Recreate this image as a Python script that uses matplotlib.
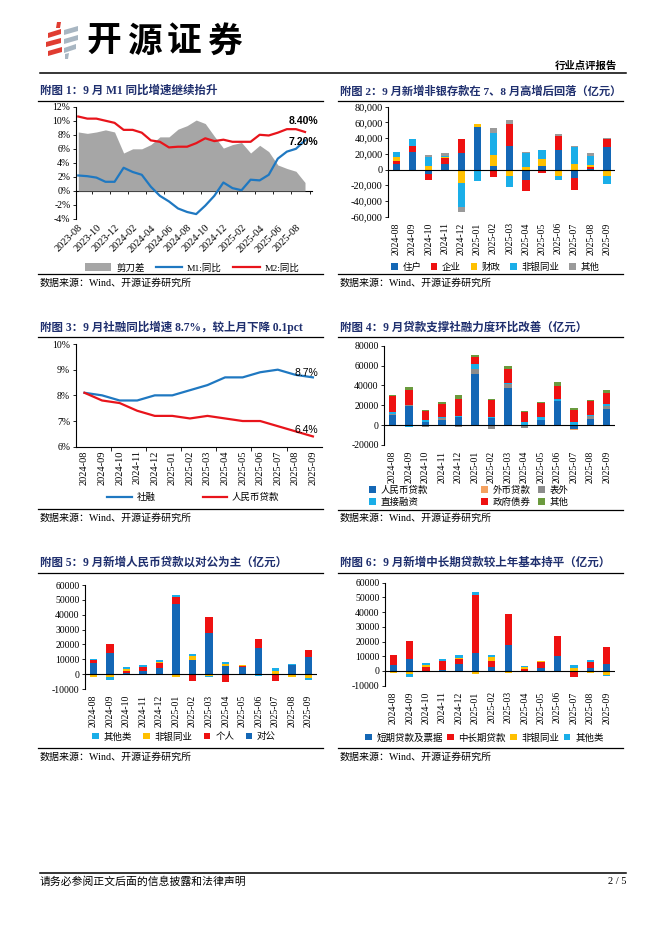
import matplotlib
matplotlib.use('Agg')
import matplotlib.pyplot as plt
from matplotlib.lines import Line2D
from matplotlib.patches import Patch, Polygon
from matplotlib.ticker import FuncFormatter
import numpy as np

plt.rcParams['font.family'] = ['Liberation Serif', 'Noto Sans CJK SC', 'DejaVu Sans']
plt.rcParams['axes.unicode_minus'] = False

W, H = 662, 936
NAVY = '#1F2F6E'
C_BLUE = '#1467B5'
C_RED = '#EE1111'
C_YEL = '#FFC000'
C_LBLUE = '#1AAEE8'
C_GRAY = '#9A9A9A'
C_DGRAY = '#8C8C8C'
C_ORANGE = '#F4A261'
C_GREEN = '#6B9A3E'
L_BLUE = '#1F78C1'
L_RED = '#E8141B'

# ---------------- data ----------------
months_26 = ['2023-08', '2023-09', '2023-10', '2023-11', '2023-12', '2024-01', '2024-02',
             '2024-03', '2024-04', '2024-05', '2024-06', '2024-07', '2024-08', '2024-09',
             '2024-10', '2024-11', '2024-12', '2025-01', '2025-02', '2025-03', '2025-04',
             '2025-05', '2025-06', '2025-07', '2025-08', '2025-09']
m1_yoy = [2.2, 2.1, 1.9, 1.3, 1.3, 3.3, 2.7, 2.3, 0.6, -0.7, -1.5, -2.5, -3.0, -3.3,
          -2.1, -0.7, 1.2, 0.4, 0.1, 1.6, 1.5, 2.3, 4.6, 5.6, 6.0, 7.2]
m2_yoy = [10.6, 10.3, 10.3, 10.0, 9.7, 8.7, 8.7, 8.3, 7.2, 7.0, 6.2, 6.3, 6.3, 6.8,
          7.5, 7.1, 7.3, 7.0, 7.0, 7.0, 8.0, 7.9, 8.3, 8.8, 8.8, 8.4]
scissors = [8.4, 8.2, 8.4, 8.7, 8.4, 5.4, 6.0, 6.0, 6.6, 7.7, 7.7, 8.8, 9.3, 10.1,
            9.6, 7.8, 6.1, 6.6, 6.9, 5.4, 6.5, 5.6, 3.7, 3.2, 2.8, 1.2]

months_14 = ['2024-08', '2024-09', '2024-10', '2024-11', '2024-12', '2025-01', '2025-02',
             '2025-03', '2025-04', '2025-05', '2025-06', '2025-07', '2025-08', '2025-09']

# 附图2 新增存款（亿元）
dep_household = [7000, 22000, -6000, 7000, 21000, 54500, 5000, 30500, -13500, 4500, 24500, -11000, 1000, 28500]
dep_corp = [4000, 8000, -7500, 7500, 18500, -2000, -9000, 28000, -13500, -4500, 18000, -15000, 2500, 10000]
dep_fiscal = [5000, -1500, 5000, 1500, -17500, 4000, 13000, -8500, 3000, 8500, -8500, 7500, 2500, -8500]
dep_nonbank = [6000, 9500, 11000, 1500, -30500, -13000, 29000, -13500, 17500, 12000, -5000, 21000, 11800, -9500]
dep_other = [0, 0, 2500, 4000, -6500, 0, 5500, 5000, 2000, 0, 3000, 2000, 3000, 2000]

# 附图3 同比增速（%）
tsf_yoy = [8.1, 8.0, 7.8, 7.8, 8.0, 8.0, 8.2, 8.4, 8.7, 8.7, 8.9, 9.0, 8.8, 8.7]
rmb_loan_yoy = [8.1, 7.8, 7.7, 7.4, 7.2, 7.2, 7.1, 7.2, 7.1, 7.0, 7.0, 6.8, 6.6, 6.4]

# 附图4 社融分项（亿元）
tsf_rmb_loan = [10500, 19000, 3000, 5500, 8500, 51500, 7000, 37500, -1000, 5500, 24500, -4300, 6000, 16000]
tsf_fx_loan = [-300, -500, -300, -300, -500, 500, -300, -200, -300, -200, -300, -500, -200, -200]
tsf_offbs = [1000, 1500, -1500, 1500, -1000, 4500, -3500, 3500, -1500, -500, -500, -300, 3500, 3500]
tsf_direct = [1500, -1500, 2000, 1500, 1000, 5000, 1500, 1000, 3500, 2500, 1500, 3300, 1000, 1500]
tsf_govbond = [16000, 15000, 9000, 13000, 17000, 7000, 17000, 14700, 9700, 14000, 13500, 12400, 13700, 11500]
tsf_other = [1500, 3000, 1300, 1700, 3500, 2000, 800, 2500, 1500, 1500, 3500, 1500, 1500, 2500]

# 附图5/6 新增人民币贷款（亿元）
loan_corp = [7500, 14300, 500, 2300, 4000, 47300, 9800, 28000, 5800, 4700, 17300, 0, 6000, 11400]
loan_personal = [2200, 5800, 1600, 2300, 3400, 4300, -4300, 10300, -5500, 600, 6300, -4900, 0, 4700]
loan_nonbank = [-1600, -2200, 1300, -700, 600, -2000, 2700, -1500, 1100, 800, -400, 2000, -1600, -2500]
loan_other = [500, -1800, 1300, 1500, 1600, 2000, 1000, -200, 1000, 100, -600, 2100, 1100, -1200]
loan_short = [4000, 8200, 300, 800, 5000, 12000, 2500, 17500, 200, 2200, 10200, 0, 2000, 4800]
loan_mlt = [6600, 12000, 2300, 5700, 3400, 39500, 4500, 21300, 1400, 4000, 13600, -3900, 4300, 11600]

# ---------------- helpers ----------------
fig = plt.figure(figsize=(W / 100, H / 100), dpi=100)


def fx(x):
    return x / W


def fy(y):
    return 1 - y / H


def px_axes(l, t, r, b):
    return fig.add_axes([fx(l), fy(b), (r - l) / W, (b - t) / H])


def hline(x0, x1, y, lw=0.9):
    fig.add_artist(Line2D([fx(x0), fx(x1)], [fy(y), fy(y)], color='black', lw=lw))


def ftext(x, y, s, **kw):
    kw.setdefault('va', 'center')
    fig.text(fx(x), fy(y), s, **kw)


def title(x, y, s, size=8.3):
    ftext(x, y, s, fontsize=size, fontweight='bold', color=NAVY,
          family=['Liberation Serif', 'Noto Sans CJK SC'])


def source(x, y):
    ftext(x, y, '数据来源：Wind、开源证券研究所', fontsize=7.2,
          family=['Liberation Serif', 'Noto Sans CJK SC'])


def fig_legend(handles, labels, x, y, ncol, colsp, hl=0.7, hh=0.7, pad=0.5):
    fig.legend(handles, labels, loc='center left', bbox_to_anchor=(fx(x), fy(y)),
               ncol=ncol, frameon=False, fontsize=6.8, handlelength=hl, handleheight=hh,
               handletextpad=pad, columnspacing=colsp, borderaxespad=0, borderpad=0,
               labelspacing=0.3)


def style_y(ax, ylim, yticks, fmt, size=7):
    ax.set_ylim(*ylim)
    ax.set_yticks(yticks)
    ax.yaxis.set_major_formatter(FuncFormatter(fmt))
    for s in ['top', 'right']:
        ax.spines[s].set_visible(False)
    ax.spines['left'].set_linewidth(0.8)
    ax.tick_params(axis='y', labelsize=size, length=2.5, width=0.6, pad=1.5)
    ax.patch.set_alpha(0)


def stacked_bars(ax, series, colors, width=0.45):
    x = np.arange(len(series[0]))
    pos = np.zeros(len(x))
    neg = np.zeros(len(x))
    for vals, c in zip(series, colors):
        v = np.array(vals, dtype=float)
        p = np.where(v > 0, v, 0)
        n = np.where(v < 0, v, 0)
        ax.bar(x, p, width, bottom=pos, color=c, linewidth=0)
        ax.bar(x, n, width, bottom=neg, color=c, linewidth=0)
        pos += p
        neg += n
    ax.set_xlim(-0.5, len(x) - 0.5)
    ax.axhline(0, color='black', lw=0.8)
    ax.spines['bottom'].set_visible(False)
    ax.set_xticks(x)
    ax.set_xticklabels(months_14, rotation=90, fontsize=7)
    ax.tick_params(axis='x', length=0, pad=4)


def sq(c):
    return Patch(facecolor=c, edgecolor='none')


# ---------------- header ----------------
for pts, c in [
    ([(57, 22), (61, 22), (60, 28), (56, 28)], '#E03C31'),
    ([(48, 33), (61, 29), (61, 34), (48, 38)], '#E03C31'),
    ([(46, 42), (61, 38), (61, 43), (46, 47)], '#E03C31'),
    ([(48, 51), (62, 47), (62, 52), (48, 56)], '#E03C31'),
    ([(64, 30), (78, 26), (78, 31), (64, 35)], '#A8B6C2'),
    ([(64, 39), (78, 35), (78, 40), (64, 44)], '#A8B6C2'),
    ([(64, 48), (76, 44), (76, 49), (64, 53)], '#A8B6C2'),
    ([(65, 54), (69, 53), (68, 59), (65, 59)], '#A8B6C2'),
]:
    fig.add_artist(Polygon([(fx(a), fy(b)) for a, b in pts], closed=True,
                           facecolor=c, edgecolor='none', transform=fig.transFigure))
for i, ch in enumerate('开源证券'):
    ftext(104 + 40 * i, 41, ch, fontsize=25, fontweight='bold', ha='center',
          family=['Noto Sans CJK SC'])
ftext(617, 66, '行业点评报告', fontsize=7.5, fontweight='bold', ha='right', family=['Noto Sans CJK SC'])
hline(40, 626, 73, lw=1.1)

# ---------------- chart 1 ----------------
title(40, 91, '附图 1：9 月 M1 同比增速继续抬升')
hline(38, 323, 101)
ax1 = px_axes(76, 106.7, 312, 219)
x26 = np.arange(len(months_26))
ax1.fill_between(x26, 0, scissors, color='#A6A6A6', linewidth=0, label='剪刀差')
ax1.plot(x26, m1_yoy, color=L_BLUE, lw=1.6, label='M1:同比')
ax1.plot(x26, m2_yoy, color=L_RED, lw=1.6, label='M2:同比')
ax1.set_xlim(-0.25, 25.77)
style_y(ax1, (-4, 12), np.arange(-4, 13, 2), lambda v, p: f'{int(v)}%')
ax1.spines['bottom'].set_visible(False)
ax1.set_xticks(x26[::2])
ax1.set_xticklabels(months_26[::2], rotation=45, ha='right', rotation_mode='anchor', fontsize=7.5)
ax1.tick_params(axis='x', length=0, pad=3)
sec = ax1.secondary_xaxis(0.25)
sec.set_xticks(np.arange(1.5, 26, 2))
sec.set_xticklabels([])
sec.tick_params(length=2.5, width=0.6)
sec.spines['bottom'].set_linewidth(0.8)
ax1.annotate(f'{m2_yoy[-1]:.2f}%', (x26[-1], m2_yoy[-1]), xytext=(-1, 8), textcoords='offset points',
             ha='center', va='center', fontsize=7.5, fontweight='bold', family='Liberation Sans')
ax1.annotate(f'{m1_yoy[-1]:.2f}%', (x26[-1], m1_yoy[-1]), xytext=(-1, -1.5), textcoords='offset points',
             ha='center', va='center', fontsize=7.5, fontweight='bold', family='Liberation Sans')
h1, l1 = ax1.get_legend_handles_labels()
fig_legend(h1, l1, 85, 268, 3, 1.2, hl=2.8, hh=0.9)
hline(38, 323, 274)
source(40, 283)

# ---------------- chart 2 ----------------
title(340, 91, '附图 2：9 月新增非银存款在 7、8 月高增后回落（亿元）', size=8.15)
hline(338, 623, 101)
ax2 = px_axes(388.3, 106.7, 615, 216.7)
cols2 = [C_BLUE, C_RED, C_YEL, C_LBLUE, C_GRAY]
stacked_bars(ax2, [dep_household, dep_corp, dep_fiscal, dep_nonbank, dep_other], cols2)
style_y(ax2, (-60000, 80000), np.arange(-60000, 80001, 20000), lambda v, p: f'{int(v):,}', size=7.5)
fig_legend([sq(c) for c in cols2], ['住户', '企业', '财政', '非银同业', '其他'], 391, 267, 5, 1.0)
hline(338, 623, 274)
source(340, 283)

# ---------------- chart 3 ----------------
title(40, 327.7, '附图 3：9 月社融同比增速 8.7%，较上月下降 0.1pct')
hline(38, 323, 337.3)
ax3 = px_axes(75.7, 344, 321.7, 446.7)
x14 = np.arange(len(months_14))
ax3.plot(x14, tsf_yoy, color=L_BLUE, lw=1.6, label='社融')
ax3.plot(x14, rmb_loan_yoy, color=L_RED, lw=1.6, label='人民币贷款')
ax3.set_xlim(-0.5, 13.5)
style_y(ax3, (6, 10), np.arange(6, 10.1, 1), lambda v, p: f'{int(v)}%')
ax3.spines['bottom'].set_linewidth(0.8)
ax3.set_xticks(x14)
ax3.set_xticklabels(months_14, rotation=90, fontsize=7.5)
ax3.set_xticks(np.arange(1.5, 13, 2), minor=True)
ax3.tick_params(axis='x', which='major', length=0, pad=2.5)
ax3.tick_params(axis='x', which='minor', length=3, width=0.6)
ax3.annotate(f'{tsf_yoy[-1]:.1f}%', (x14[-1], tsf_yoy[-1]), xytext=(-4.5, 3.3), textcoords='offset points',
             ha='center', va='center', fontsize=7.5, family='Liberation Sans')
ax3.annotate(f'{rmb_loan_yoy[-1]:.1f}%', (x14[-1], rmb_loan_yoy[-1]), xytext=(-4.5, 4.7), textcoords='offset points',
             ha='center', va='center', fontsize=7.5, family='Liberation Sans')
h3, l3 = ax3.get_legend_handles_labels()
fig_legend(h3, l3, 107, 497.7, 2, 5.0, hl=2.6, hh=0.9)
hline(38, 323, 509)
source(40, 518.5)

# ---------------- chart 4 ----------------
title(340, 327.7, '附图 4：9 月贷款支撑社融力度环比改善（亿元）')
hline(338, 623, 337.3)
ax4 = px_axes(384.3, 345.7, 615, 445)
cols4 = [C_BLUE, C_ORANGE, C_DGRAY, C_LBLUE, C_RED, C_GREEN]
names4 = ['人民币贷款', '外币贷款', '表外', '直接融资', '政府债券', '其他']
stacked_bars(ax4, [tsf_rmb_loan, tsf_fx_loan, tsf_offbs, tsf_direct, tsf_govbond, tsf_other], cols4)
style_y(ax4, (-20000, 80000), np.arange(-20000, 80001, 20000), lambda v, p: f'{int(v)}')
# legend laid out as three columns, two rows
for col, xcol in zip(range(3), [369, 481, 538]):
    idx = [col, col + 3]
    fig_legend([sq(cols4[i]) for i in idx], [names4[i] for i in idx], xcol, 496, 1, 0)
hline(338, 623, 510)
source(340, 518.5)

# ---------------- chart 5 ----------------
title(40, 563, '附图 5：9 月新增人民币贷款以对公为主（亿元）')
hline(38, 323, 573)
ax5 = px_axes(85, 585, 316.7, 689)
cols5 = [C_BLUE, C_RED, C_YEL, C_LBLUE]
stacked_bars(ax5, [loan_corp, loan_personal, loan_nonbank, loan_other], cols5)
style_y(ax5, (-10000, 60000), np.arange(-10000, 60001, 10000), lambda v, p: f'{int(v)}')
fig_legend([sq(C_LBLUE), sq(C_YEL), sq(C_RED), sq(C_BLUE)], ['其他类', '非银同业', '个人', '对公'],
           92, 736.7, 4, 1.2)
hline(38, 323, 748.3)
source(40, 757)

# ---------------- chart 6 ----------------
title(340, 563, '附图 6：9 月新增中长期贷款较上年基本持平（亿元）')
hline(338, 623, 573)
ax6 = px_axes(385, 582.7, 615, 685.7)
cols6 = [C_BLUE, C_RED, C_YEL, C_LBLUE]
stacked_bars(ax6, [loan_short, loan_mlt, loan_nonbank, loan_other], cols6)
style_y(ax6, (-10000, 60000), np.arange(-10000, 60001, 10000), lambda v, p: f'{int(v)}')
fig_legend([sq(c) for c in cols6], ['短期贷款及票据', '中长期贷款', '非银同业', '其他类'],
           365, 737.7, 4, 0.45)
hline(338, 623, 748.3)
source(340, 757)

# ---------------- footer ----------------
hline(40, 626, 873, lw=1.1)
ftext(40, 882, '请务必参阅正文后面的信息披露和法律声明', fontsize=7.8,
      family=['Noto Sans CJK SC'])
ftext(626, 882, '2 / 5', fontsize=7.5, ha='right')

fig.savefig('out.png', dpi=100)
